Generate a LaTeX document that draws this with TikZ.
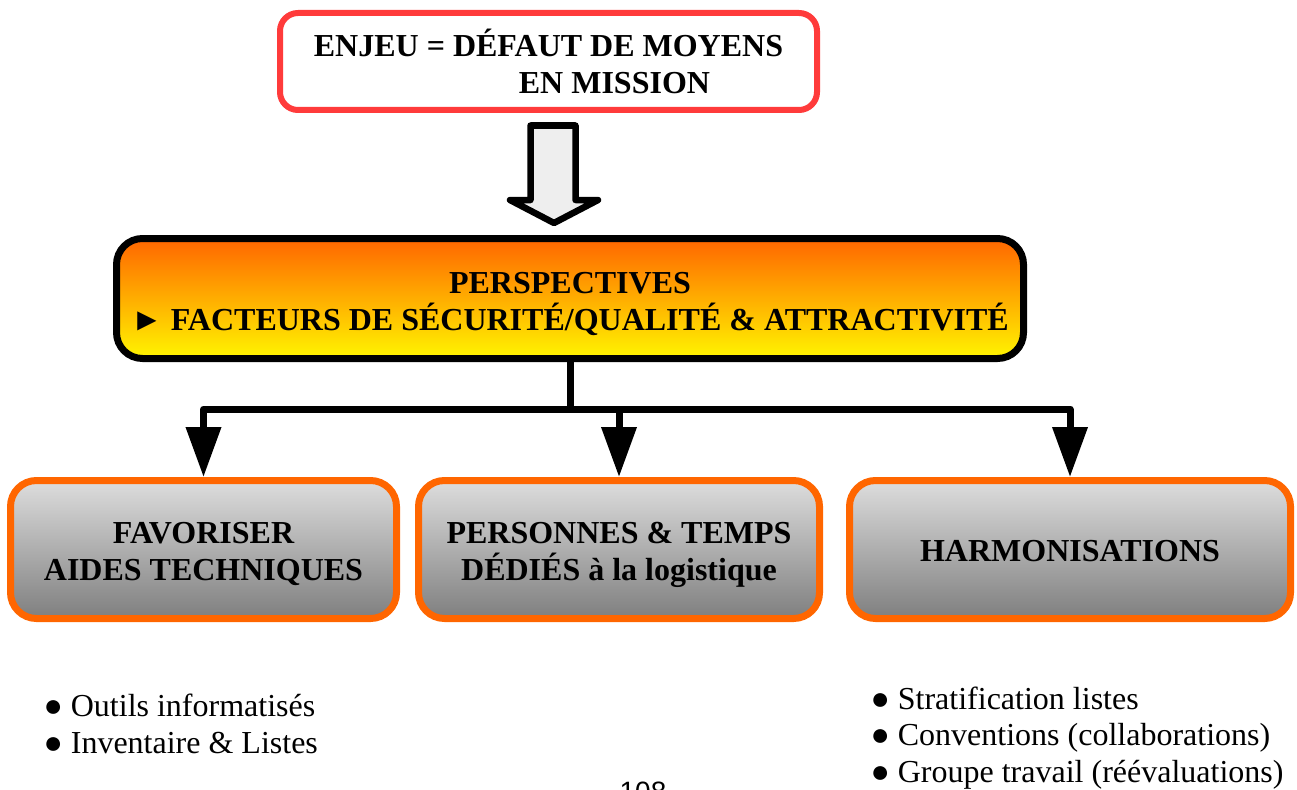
\documentclass[tikz,border=0pt]{standalone}
\usepackage{fontspec}
\setmainfont{Liberation Serif}
\newfontfamily\pagefont{Liberation Sans}
\usetikzlibrary{calc,positioning,arrows.meta}
\definecolor{enjeured}{HTML}{FF3B3B}
\definecolor{orangebord}{HTML}{FF6600}
\definecolor{perstop}{HTML}{FF6600}
\definecolor{persbot}{HTML}{FFF500}
\definecolor{graytop}{HTML}{DDDDDD}
\definecolor{graybot}{HTML}{7F7F7F}
\definecolor{arrowfill}{HTML}{EEEEEE}

\begin{document}
\begin{tikzpicture}[x=1pt,y=-1pt,
		bigfont/.style={font=\fontsize{32}{37}\selectfont\bfseries},
		listfont/.style={font=\fontsize{32}{36.5}\selectfont},
		enjeubox/.style={draw=enjeured,line width=6pt,rounded corners=18pt,fill=white,minimum width=537pt,minimum height=97pt,bigfont,align=left},
		persbox/.style={draw=black,line width=7pt,rounded corners=26pt,top color=perstop,bottom color=persbot,minimum width=907pt,minimum height=120pt,bigfont,align=center,text height=63pt,text depth=0pt},
		actionbox/.style={draw=orangebord,line width=7pt,rounded corners=26pt,top color=graytop,bottom color=graybot,minimum height=138pt,bigfont,align=center,text height=61pt,text depth=0pt},
		link/.style={line width=7pt,line join=round,-{Triangle[length=50pt,width=34pt]}}]
		\useasboundingbox (0,0) rectangle (1297,789);
		% boxes
		\node[enjeubox] (enjeu) at (548.5,61.5) {ENJEU = DÉFAUT DE MOYENS\\\hspace*{205pt}EN MISSION};
		\node[persbox] (persp) at (570,298.5) {PERSPECTIVES\\► FACTEURS DE SÉCURITÉ/QUALITÉ \& ATTRACTIVITÉ};
		\node[actionbox,minimum width=386pt] (aides) at (203.5,549.5) {FAVORISER\\AIDES TECHNIQUES};
		\node[actionbox,minimum width=401pt] (dedies) at (619,549.5) {PERSONNES \& TEMPS\\DÉDIÉS à la logistique};
		\node[actionbox,minimum width=441pt,text height=23pt] (harmo) at (1070,549.5) {HARMONISATIONS};
		% hollow arrow
		\draw[line width=6.5pt,line join=round,fill=arrowfill] (530.5,125.5) -- (575.5,125.5) -- (575.5,200) -- (598,200) -- (554,223) -- (510,200) -- (530.5,200) -- cycle;
		% links
		\coordinate (split) at (570,409);
		\draw[line width=7pt] (persp.south) -- (split);
		\draw[link] (split) -| (aides.north);
		\draw[link] (split) -| (dedies.north);
		\draw[link] (split) -| (harmo.north);
		% lists (base = last line)
		\node[listfont,anchor=base west,align=left] (aidesliste) at (40,753) {● Outils informatisés\\● Inventaire \& Listes};
		\node[listfont,anchor=base west,align=left] (harmoliste) at (867,782) {● Stratification listes\\● Conventions (collaborations)\\● Groupe travail (réévaluations)};
		\node[font=\pagefont\fontsize{28}{28}\selectfont,anchor=base] (pagenum) at (643,801) {108};
\end{tikzpicture}
\end{document}
